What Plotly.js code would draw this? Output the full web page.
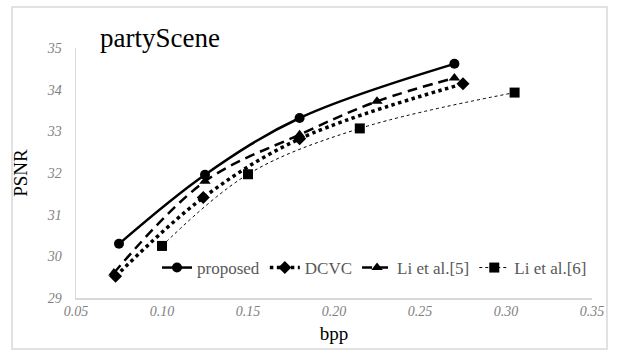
<!DOCTYPE html>
<html>
<head>
<meta charset="utf-8">
<script src="https://cdn.plot.ly/plotly-3.0.1.min.js"></script>
<style>html,body{margin:0;padding:0;background:#fff;}#chart{width:620px;height:356px;}</style>
</head>
<body>
<div id="chart"></div>
<script>
const seriesNames = ["proposed", "DCVC", "Li et al.[5]", "Li et al.[6]"];
const proposedX = [0.075, 0.125, 0.18, 0.27];
const proposedY = [30.3, 31.96, 33.32, 34.62];
const dcvcX = [0.073, 0.124, 0.18, 0.275];
const dcvcY = [29.52, 31.41, 32.82, 34.14];
const li5X = [0.072, 0.125, 0.18, 0.225, 0.27];
const li5Y = [29.6, 31.8, 32.92, 33.72, 34.28];
const li6X = [0.10, 0.15, 0.215, 0.305];
const li6Y = [30.25, 31.97, 33.07, 33.93];
const xTicks = [0.05, 0.10, 0.15, 0.20, 0.25, 0.30, 0.35];
const yTicks = [29, 30, 31, 32, 33, 34, 35];

const serif = "Liberation Serif";
const traces = [
  {x: proposedX, y: proposedY, name: seriesNames[0], mode: "lines+markers",
   line: {color: "#000", width: 2.5, shape: "spline", dash: "solid"},
   marker: {symbol: "circle", size: 10, color: "#000"}},
  {x: dcvcX, y: dcvcY, name: seriesNames[1], mode: "lines+markers",
   line: {color: "#000", width: 3.5, shape: "spline", dash: "dot"},
   marker: {symbol: "diamond", size: 10, color: "#000"}},
  {x: li5X, y: li5Y, name: seriesNames[2], mode: "lines+markers",
   line: {color: "#000", width: 2.5, shape: "spline", dash: "10px,6px"},
   marker: {symbol: "triangle-up", size: 10, color: "#000"}},
  {x: li6X, y: li6Y, name: seriesNames[3], mode: "lines+markers",
   line: {color: "#000", width: 1, shape: "spline", dash: "dot"},
   marker: {symbol: "square", size: 10, color: "#000"}}
];

const layout = {
  width: 620, height: 356,
  margin: {l: 76, r: 28, t: 48, b: 58},
  paper_bgcolor: "#fff", plot_bgcolor: "#fff",
  showlegend: true,
  font: {family: serif},
  title: {text: "partyScene", font: {family: serif, size: 27, color: "#000"},
          x: 100/620, xanchor: "left", y: 1 - 38/356, yanchor: "middle"},
  xaxis: {range: [0.05, 0.35], tickvals: xTicks, ticktext: xTicks.map(v => v.toFixed(2)),
          showgrid: false, zeroline: false, showline: true, linecolor: "#d9d9d9", linewidth: 1.5,
          ticks: "", tickfont: {family: serif, size: 14, color: "#7f7f7f", style: "italic"},
          title: {text: "bpp", font: {family: serif, size: 19, color: "#000"}, standoff: 8}},
  yaxis: {range: [29, 35], tickvals: yTicks,
          showgrid: false, zeroline: false, showline: true, linecolor: "#d9d9d9", linewidth: 1.5,
          ticks: "", ticklabelstandoff: 10, tickfont: {family: serif, size: 14, color: "#7f7f7f", style: "italic"},
          title: {text: "PSNR", font: {family: serif, size: 19, color: "#000"}, standoff: 14}},
  legend: {orientation: "h", x: 1, xanchor: "right", y: 0.12, yanchor: "middle",
           bgcolor: "rgba(0,0,0,0)", font: {family: serif, size: 17, color: "#595959"},
           itemwidth: 30, tracegroupgap: 0},
  shapes: [{type: "rect", xref: "paper", yref: "paper",
            x0: (12-76)/516, x1: (607-76)/516, y0: (298-349)/250, y1: (298-7)/250,
            line: {color: "#d9d9d9", width: 1.5}, fillcolor: "rgba(0,0,0,0)", layer: "below"}]
};

Plotly.newPlot("chart", traces, layout, {displayModeBar: false, staticPlot: true});
</script>
</body>
</html>
